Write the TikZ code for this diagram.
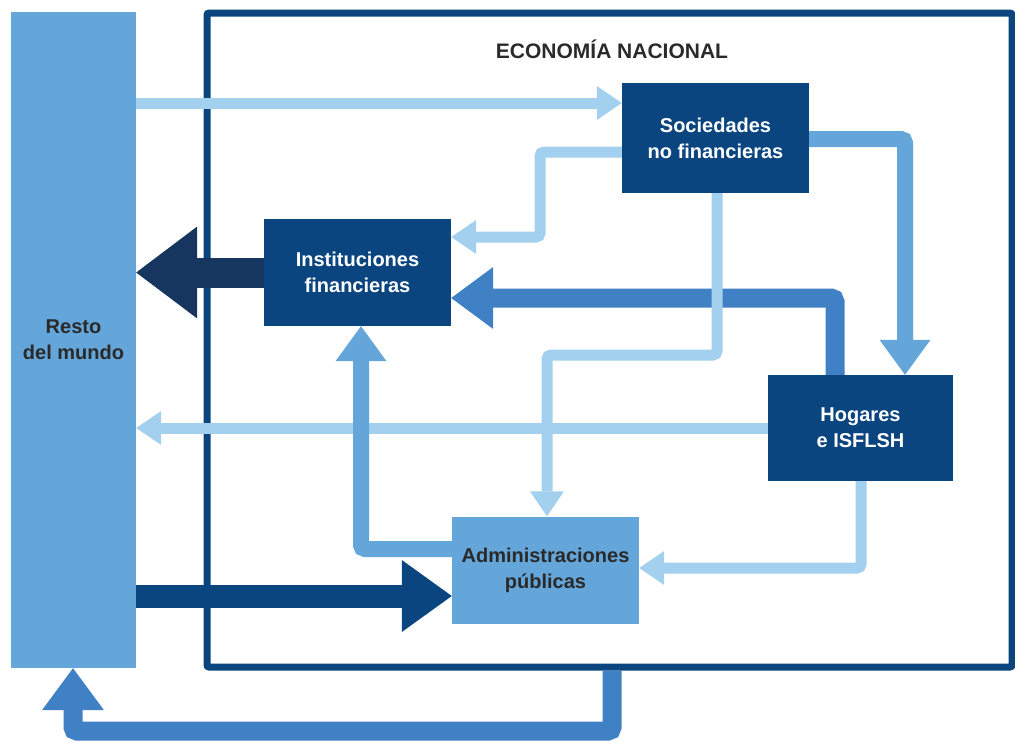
\documentclass[tikz,border=0pt]{standalone}
\usepackage{fontspec}
\setmainfont{Liberation Sans}
\usetikzlibrary{arrows.meta}
\definecolor{boxdark}{HTML}{0B4580}
\definecolor{navy}{HTML}{17365F}
\definecolor{midlight}{HTML}{64A5DA}
\definecolor{midblue}{HTML}{4080C4}
\definecolor{lightb}{HTML}{A3D0EF}
\definecolor{txtdark}{HTML}{2A2A2A}
\tikzset{
  darkbox/.style={rectangle, fill=boxdark, text=white, inner sep=0pt, align=center,
    minimum width=187pt, minimum height=107pt, font=\fontsize{20}{26}\selectfont\bfseries},
  lightbox/.style={darkbox, fill=midlight, text=txtdark},
  flow/.style={rounded corners=4pt},
  thinflow/.style={flow, draw=lightb, line width=11pt,
    -{Triangle[length=25pt,width=34pt,line width=0pt]}},
  medflow/.style={flow, draw=midlight, line width=16pt,
    -{Triangle[length=35pt,width=51pt,line width=0pt]}},
  blueflow/.style={flow, draw=midblue, line width=19pt,
    -{Triangle[length=42pt,width=62pt,line width=0pt]}},
  darkflow/.style={flow, draw=boxdark, line width=23pt,
    -{Triangle[length=50pt,width=72pt,line width=0pt]}},
  navyflow/.style={flow, draw=navy, line width=30pt,
    -{Triangle[length=61pt,width=92pt,line width=0pt]}},
}
\begin{document}
\begin{tikzpicture}[x=1pt,y=-1pt]
\useasboundingbox (0,0) rectangle (1015,742);
% frame of the national economy
\node (eco) [draw=boxdark, line width=7pt, rounded corners=2pt, minimum width=805pt, minimum height=654pt, inner sep=0pt] at (609.5,340) {};
\node (title) [text=txtdark, font=\fontsize{21}{25}\selectfont\bfseries] at (612,49) {ECONOMÍA NACIONAL};
% sectors
\node (resto) [lightbox, minimum width=125pt, minimum height=656pt] at (73.5,340) {Resto\\del mundo};
\node (soc) [darkbox, minimum height=110pt] at (715.5,138) {Sociedades\\no financieras};
\node (inst) [darkbox] at (357.5,272.5) {Instituciones\\financieras};
\node (hog) [darkbox, minimum width=185pt, minimum height=106pt] at (860.5,428) {Hogares\\e ISFLSH};
\node (adm) [lightbox] at (545.5,570) {Administraciones\\públicas};
% helper coordinates
\coordinate (y1) at (0,103);
\coordinate (b2a) at (540,152);
\coordinate (b2b) at (540,237);
\coordinate (b3) at (835,298);
\coordinate (b4) at (905,139);
\coordinate (b5a) at (717,355);
\coordinate (b5b) at (547,355);
\coordinate (b7) at (861,568);
\coordinate (b8) at (361,549);
\coordinate (y9) at (0,596);
\coordinate (b11a) at (612,731);
\coordinate (b11b) at (73,731);
% flows
\draw[navyflow] (inst.west) -- (resto.east |- inst.west);
\draw[darkflow] (resto.east |- y9) -- (adm.west |- y9);
\draw[thinflow] (hog.west) -- (resto.east |- hog.west);
\draw[medflow] (adm.west |- b8) -- (b8) -- (inst.south -| b8);
\draw[blueflow] (hog.north -| b3) -- (b3) -- (inst.east |- b3);
\draw[thinflow] (resto.east |- y1) -- (soc.west |- y1);
\draw[thinflow] (soc.west |- b2a) -- (b2a) -- (b2b) -- (inst.east |- b2b);
\draw[medflow] (soc.east |- b4) -- (b4) -- (hog.north -| b4);
\draw[thinflow] (soc.south -| b5a) -- (b5a) -- (b5b) -- (adm.north -| b5b);
\draw[thinflow] (hog.south -| b7) -- (b7) -- (adm.east |- b7);
\draw[blueflow] (eco.south -| b11a) -- (b11a) -- (b11b) -- (resto.south -| b11b);
\end{tikzpicture}
\end{document}
